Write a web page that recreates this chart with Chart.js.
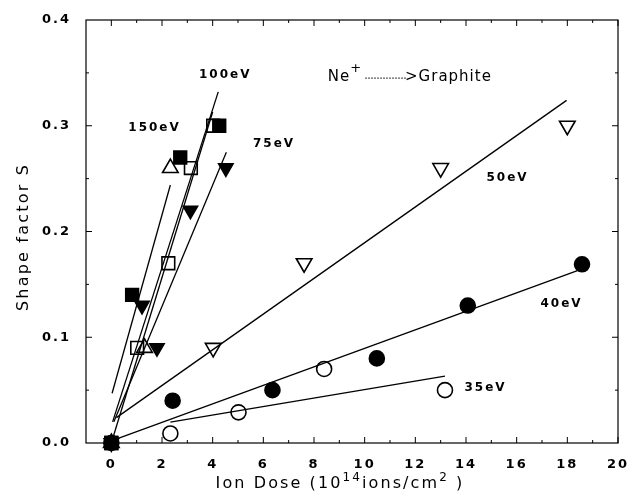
<!DOCTYPE html>
<html>
<head>
<meta charset="utf-8">
<script src="https://cdn.jsdelivr.net/npm/chart.js@4"></script>
<style>
    html, body { margin: 0; padding: 0; background: #ffffff; }
    #wrap { width: 630px; height: 501px; position: relative; }
</style>
</head>
<body>
<div id="wrap"><canvas id="shapeChart"></canvas></div>
<script>
const filledSquareX = [0, 0.82, 2.72, 4.26];
const filledSquareY = [0, 0.14, 0.27, 0.30];
const openSquareX = [0, 1.02, 2.25, 3.14, 4.02];
const openSquareY = [0, 0.09, 0.17, 0.26, 0.30];
const openTriX = [0, 1.31, 2.33];
const openTriY = [0, 0.09, 0.26];
const filledDownX = [0, 1.21, 1.80, 3.12, 4.52];
const filledDownY = [0, 0.13, 0.09, 0.22, 0.26];
const openDownX = [4.02, 7.61, 13.0, 18.0];
const openDownY = [0.09, 0.17, 0.26, 0.30];
const filledCircleX = [0, 2.42, 6.36, 10.48, 14.07, 18.58];
const filledCircleY = [0, 0.04, 0.05, 0.08, 0.13, 0.169];
const openCircleX = [2.33, 5.02, 8.40, 13.17];
const openCircleY = [0.009, 0.029, 0.070, 0.050];

// straight fit lines, [start, end]
const fit150X = [0.03, 2.33];
const fit150Y = [0.047, 0.244];
const fit100X = [0.05, 4.22];
const fit100Y = [0.02, 0.332];
const fitSqX = [0, 4.0];
const fitSqY = [0, 0.313];
const fit75X = [0.1, 4.54];
const fit75Y = [0.02, 0.275];
const fit50X = [0.2, 17.97];
const fit50Y = [0.024, 0.324];
const fit40X = [0, 18.4];
const fit40Y = [0.002, 0.163];
const fit35X = [2.33, 13.17];
const fit35Y = [0.0197, 0.0633];

const xTicks = [0, 2, 4, 6, 8, 10, 12, 14, 16, 18, 20];
const yTicks = [0.0, 0.1, 0.2, 0.3, 0.4];

const labelFont = "DejaVu Sans";

function pts(xs, ys) {
    return xs.map((x, i) => ({ x: x, y: ys[i] }));
}

function markerSet(xs, ys, style, filled, radius, rotation) {
    return {
        type: "scatter",
        data: pts(xs, ys),
        clip: false,
        pointStyle: style,
        pointRotation: rotation || 0,
        pointRadius: radius,
        pointHoverRadius: radius,
        pointBorderWidth: 1.6,
        pointBorderColor: "#000000",
        pointBackgroundColor: filled ? "#000000" : "rgba(255,255,255,0)",
        showLine: false
    };
}

function fitLine(xs, ys) {
    return {
        type: "line",
        data: pts(xs, ys),
        clip: false,
        borderColor: "#000000",
        borderWidth: 1.3,
        pointRadius: 0,
        pointHoverRadius: 0,
        fill: false,
        tension: 0
    };
}

// frame ticks (inward, all four sides), texts and x title
const framePlugin = {
    id: "frame",
    beforeDraw(chart) {
        chart.ctx.letterSpacing = "2px";
    },
    afterDraw(chart) {
        const ctx = chart.ctx;
        const area = chart.chartArea;
        const xs = chart.scales.x;
        const ys = chart.scales.y;

        ctx.save();
        ctx.strokeStyle = "#000000";
        ctx.lineWidth = 1.2;
        ctx.strokeRect(area.left, area.top, area.right - area.left, area.bottom - area.top);

        ctx.lineWidth = 1;
        ctx.beginPath();
        for (let v = 0; v <= 20; v++) {
            const px = xs.getPixelForValue(v);
            const len = (v % 2 === 0) ? 6 : 3;
            ctx.moveTo(px, area.bottom);
            ctx.lineTo(px, area.bottom - len);
            ctx.moveTo(px, area.top);
            ctx.lineTo(px, area.top + len);
        }
        for (let i = 1; i < 8; i++) {
            const py = ys.getPixelForValue(i * 0.05);
            const len = (i % 2 === 0) ? 6 : 3;
            ctx.moveTo(area.left, py);
            ctx.lineTo(area.left + len, py);
            ctx.moveTo(area.right, py);
            ctx.lineTo(area.right - len, py);
        }
        ctx.stroke();

        // energy labels
        ctx.fillStyle = "#000000";
        ctx.font = "bold 12px '" + labelFont + "'";
        ctx.letterSpacing = "2px";
        ctx.textBaseline = "middle";
        ctx.textAlign = "left";
        const notes = [
            ["100eV", 3.46, 0.348],
            ["150eV", 0.67, 0.298],
            ["75eV", 5.59, 0.283],
            ["50eV", 14.81, 0.251],
            ["40eV", 16.94, 0.132],
            ["35eV", 13.94, 0.0526]
        ];
        notes.forEach(n => {
            ctx.fillText(n[0], xs.getPixelForValue(n[1]), ys.getPixelForValue(n[2]));
        });

        // Ne+ --> Graphite
        let nx = xs.getPixelForValue(8.54);
        const ny = ys.getPixelForValue(0.346);
        ctx.font = "15px '" + labelFont + "'";
        ctx.letterSpacing = "1px";
        ctx.fillText("Ne", nx, ny);
        nx += ctx.measureText("Ne").width;
        ctx.font = "13px '" + labelFont + "'";
        ctx.fillText("+", nx, ny - 8);
        nx += ctx.measureText("+").width + 3;
        ctx.lineWidth = 0.8;
        ctx.setLineDash([2, 1]);
        ctx.beginPath();
        ctx.moveTo(nx, ny + 1);
        ctx.lineTo(nx + 41, ny + 1);
        ctx.stroke();
        ctx.setLineDash([]);
        nx += 40;
        ctx.font = "15px '" + labelFont + "'";
        ctx.fillText(">Graphite", nx, ny);

        // y title
        ctx.font = "16px '" + labelFont + "'";
        ctx.letterSpacing = "2.2px";
        ctx.textAlign = "center";
        ctx.save();
        ctx.translate(24, 237);
        ctx.rotate(-Math.PI / 2);
        ctx.fillText("Shape factor S", 0, 0);
        ctx.restore();

        // x title with superscripts
        const parts = [
            ["Ion Dose (10", false],
            ["14", true],
            ["ions/cm", false],
            ["2", true],
            [" )", false]
        ];
        const big = "16px '" + labelFont + "'";
        const small = "12px '" + labelFont + "'";
        ctx.letterSpacing = "2.1px";
        let total = 0;
        parts.forEach(p => {
            ctx.font = p[1] ? small : big;
            total += ctx.measureText(p[0]).width;
        });
        let tx = 340 - total / 2;
        const ty = 484;
        ctx.textAlign = "left";
        parts.forEach(p => {
            ctx.font = p[1] ? small : big;
            ctx.fillText(p[0], tx, p[1] ? ty - 6 : ty);
            tx += ctx.measureText(p[0]).width;
        });
        ctx.restore();
    }
};

function renderChart() {
    const canvas = document.getElementById("shapeChart");

    new Chart(canvas, {
        data: {
            datasets: [
                markerSet(filledSquareX, filledSquareY, "rect", true, 9),
                markerSet(openSquareX, openSquareY, "rect", false, 9),
                markerSet(openTriX, openTriY, "triangle", false, 9),
                markerSet(filledDownX, filledDownY, "triangle", true, 8.3, 180),
                markerSet(openDownX, openDownY, "triangle", false, 9, 180),
                markerSet(filledCircleX, filledCircleY, "circle", true, 7.5),
                markerSet(openCircleX, openCircleY, "circle", false, 7.5),
                fitLine(fit150X, fit150Y),
                fitLine(fit100X, fit100Y),
                fitLine(fitSqX, fitSqY),
                fitLine(fit75X, fit75Y),
                fitLine(fit50X, fit50Y),
                fitLine(fit40X, fit40Y),
                fitLine(fit35X, fit35Y)
            ]
        },
        options: {
            responsive: true,
            maintainAspectRatio: false,
            animation: false,
            events: [],
            layout: {
                padding: { top: 20, right: 12, left: 0, bottom: 0 }
            },
            plugins: {
                legend: { display: false },
                tooltip: { enabled: false }
            },
            scales: {
                x: {
                    type: "linear",
                    min: -1,
                    max: 20,
                    afterBuildTicks: (scale) => {
                        scale.ticks = xTicks.map(v => ({ value: v }));
                    },
                    afterFit: (scale) => {
                        scale.height = 58;
                        scale.paddingLeft = 0;
                        scale.paddingRight = 0;
                    },
                    grid: { display: false, drawTicks: false },
                    border: { display: false },
                    ticks: {
                        color: "#000000",
                        padding: 14,
                        font: { family: labelFont, size: 13, weight: "bold" }
                    }
                },
                y: {
                    type: "linear",
                    min: 0,
                    max: 0.4,
                    afterBuildTicks: (scale) => {
                        scale.ticks = yTicks.map(v => ({ value: v }));
                    },
                    afterFit: (scale) => {
                        scale.width = 86;
                        scale.paddingTop = 0;
                        scale.paddingBottom = 0;
                    },
                    grid: { display: false, drawTicks: false },
                    border: { display: false },
                    ticks: {
                        color: "#000000",
                        padding: 15,
                        font: { family: labelFont, size: 13, weight: "bold" },
                        callback: (v) => Number(v).toFixed(1)
                    }
                }
            }
        },
        plugins: [framePlugin]
    });
}

window.addEventListener("DOMContentLoaded", renderChart);
</script>
</body>
</html>
